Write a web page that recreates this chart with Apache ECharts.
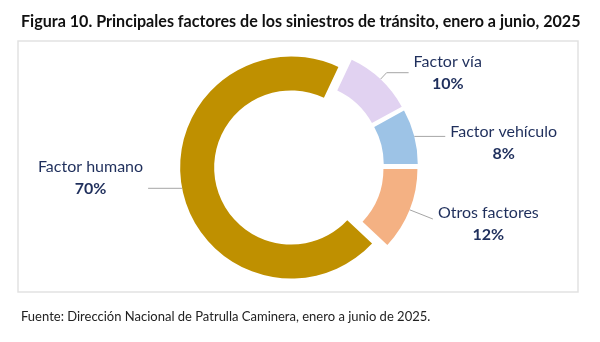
<!DOCTYPE html>
<html>
<head>
<meta charset="utf-8">
<script src="https://cdn.jsdelivr.net/npm/echarts@6/dist/echarts.min.js"></script>
<style>
html,body{margin:0;padding:0;background:#fff;}
#chart{width:600px;height:342px;}
</style>
</head>
<body>
<div id="chart"></div>
<script>
// Data (clockwise from 3 o'clock)
const categories = ['Otros factores', 'Factor humano', 'Factor vía', 'Factor vehículo'];
const values = [12, 70, 10, 8];
const colors = ['#F4B183', '#BF9000', '#E1D2F1', '#9DC3E6'];
const titleText = 'Figura 10. Principales factores de los siniestros de tránsito, enero a junio, 2025';
const sourceText = 'Fuente: Dirección Nacional de Patrulla Caminera, enero a junio de 2025.';

// label-guide styling per slice (lengths in px, padding shifts text vs. guide end)
const guideLen = [[25, 0], [0, 34], [9, 22], [0, 31]];
const labelPad = [[10, 0, 0, 0], [0, 0, 20, 0], [0, 0, 0, 0], [12, 0, 0, 0]];

const FONT = 'Lato';
const chart = echarts.init(document.getElementById('chart'), null, {renderer: 'canvas'});
chart.setOption({
  animation: false,
  backgroundColor: '#ffffff',
  textStyle: {fontFamily: FONT},
  title: [{
    text: titleText,
    left: 16, top: 9,
    textStyle: {fontFamily: FONT, fontSize: 16.1, fontWeight: 'bold', color: '#111111'}
  }, {
    text: sourceText,
    left: 16, top: 305,
    textStyle: {fontFamily: FONT, fontSize: 13, fontWeight: 'normal', color: '#222222'}
  }],
  graphic: [{
    type: 'rect', silent: true, z: -1,
    shape: {x: 18, y: 41, width: 560, height: 251},
    style: {fill: 'none', stroke: '#e2e2e2', lineWidth: 1.5}
  }],
  series: [{
    type: 'pie',
    center: [299, 166],
    radius: [77, 111],
    startAngle: 0,
    clockwise: true,
    avoidLabelOverlap: false,
    selectedMode: 'multiple',
    selectedOffset: 8,
    emphasis: {disabled: true},
    itemStyle: {borderWidth: 0},
    label: {
      show: true,
      position: 'outside',
      alignTo: 'none',
      distanceToLabelLine: 5,
      formatter: '{n|{b}}\n{p|{c}%}',
      rich: {
        n: {fontFamily: FONT, fontSize: 16, color: '#1F2F5C', lineHeight: 22, align: 'center'},
        p: {fontFamily: FONT, fontSize: 16, fontWeight: 'bold', color: '#1F2F5C', lineHeight: 22, align: 'center'}
      }
    },
    labelLine: {show: true, lineStyle: {color: '#A6A6A6', width: 1}},
    data: categories.map((c, i) => ({
      name: c, value: values[i], selected: true,
      itemStyle: {color: colors[i]},
      label: {padding: labelPad[i]},
      labelLine: {length: guideLen[i][0], length2: guideLen[i][1]}
    }))
  }]
});
</script>
</body>
</html>
